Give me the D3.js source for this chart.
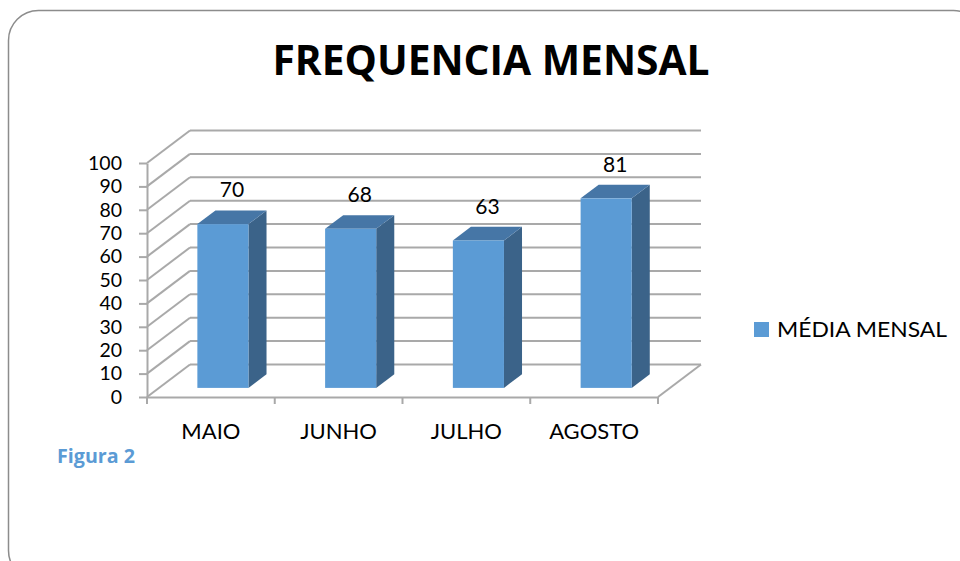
<!DOCTYPE html>
<html>
<head>
    <title>Frequencia Mensal</title>
    <script src="https://d3js.org/d3.v7.min.js"></script>
    <style>
        body { margin: 0; background: #fff; }
        svg { display: block; font-family: Lato, "Open Sans", sans-serif; }
    </style>
</head>
<body>
    <div id="chart"></div>

    <script>
        // chart values
        const categories = ['MAIO', 'JUNHO', 'JULHO', 'AGOSTO'];
        const mediaMensal = [70, 68, 63, 81];
        const yTicks = [0, 10, 20, 30, 40, 50, 60, 70, 80, 90, 100];
        const seriesName = 'MÉDIA MENSAL';

        const width = 960, height = 561;

        // 3D depth offset of the back wall
        const depth = { dx: 43, dy: -32.5 };
        const barFront = 0.28, barBack = 0.7;

        const svg = d3.select('#chart')
            .append('svg')
            .attr('width', width)
            .attr('height', height);

        // rounded frame
        svg.append('rect')
            .attr('x', 8.5).attr('y', 10.5)
            .attr('width', 975).attr('height', 570)
            .attr('rx', 30).attr('ry', 30)
            .attr('fill', 'none')
            .attr('stroke', '#8c8c8c')
            .attr('stroke-width', 1.5);

        svg.append('text')
            .attr('x', 491).attr('y', 75)
            .attr('text-anchor', 'middle')
            .attr('font-size', 41)
            .attr('font-weight', 'bold')
            .attr('textLength', 437)
            .attr('lengthAdjust', 'spacingAndGlyphs')
            .style('font-family', '"Open Sans", sans-serif')
            .text('FREQUENCIA MENSAL');

        const x = d3.scaleBand()
            .domain(categories)
            .range([147, 658])
            .paddingInner(0);

        const y = d3.scaleLinear()
            .domain([0, 100])
            .range([397, 163]);

        // project a point at depth d (0 front .. 1 back)
        const px = (xv, d) => xv + d * depth.dx;
        const py = (v, d) => y(v) + d * depth.dy;

        const grid = svg.append('g')
            .attr('stroke', '#a9a9a9')
            .attr('stroke-width', 2)
            .attr('fill', 'none');

        // back wall lines
        grid.selectAll('line.back')
            .data(yTicks)
            .enter()
            .append('line')
            .attr('class', 'back')
            .attr('x1', px(x.range()[0], 1))
            .attr('x2', px(x.range()[1], 1))
            .attr('y1', d => py(d, 1))
            .attr('y2', d => py(d, 1));

        // side wall diagonals
        grid.selectAll('line.side')
            .data(yTicks)
            .enter()
            .append('line')
            .attr('class', 'side')
            .attr('x1', px(x.range()[0], 0))
            .attr('x2', px(x.range()[0], 1))
            .attr('y1', d => py(d, 0))
            .attr('y2', d => py(d, 1));

        // floor right edge
        grid.append('line')
            .attr('x1', px(x.range()[1], 0))
            .attr('x2', px(x.range()[1], 1))
            .attr('y1', py(0, 0))
            .attr('y2', py(0, 1));

        // left axis
        const yAxis = svg.append('g')
            .attr('transform', `translate(${x.range()[0]},0)`)
            .call(d3.axisLeft(y).tickValues(yTicks).tickSize(8).tickPadding(17).tickSizeOuter(0));
        yAxis.selectAll('text').attr('font-size', 19.5).attr('fill', '#000')
            .style('font-family', 'Lato, sans-serif');
        yAxis.selectAll('line').attr('stroke', '#a9a9a9').attr('stroke-width', 2);
        yAxis.select('.domain').attr('stroke', '#a9a9a9').attr('stroke-width', 2);

        // bottom axis
        const xAxis = svg.append('g')
            .attr('transform', `translate(0,${y(0)})`)
            .call(d3.axisBottom(x).tickSize(0).tickPadding(26).tickSizeOuter(0));
        xAxis.selectAll('text').attr('font-size', 22).attr('fill', '#000')
            .style('font-family', 'Lato, sans-serif');
        xAxis.select('.domain').attr('stroke', '#a9a9a9').attr('stroke-width', 2);

        // category ticks at band edges
        const edges = categories.map(c => x(c)).concat([x.range()[1]]);
        xAxis.selectAll('line.edge')
            .data(edges)
            .enter()
            .append('line')
            .attr('class', 'edge')
            .attr('x1', d => d).attr('x2', d => d)
            .attr('y1', 0).attr('y2', 7)
            .attr('stroke', '#a9a9a9')
            .attr('stroke-width', 2);

        // 3D bars
        const barW = x.bandwidth() * 0.4;
        const bars = svg.selectAll('g.bar')
            .data(categories.map((c, i) => ({ cat: c, value: mediaMensal[i] })))
            .enter()
            .append('g')
            .attr('class', 'bar');

        const x0 = d => x(d.cat) + (x.bandwidth() - barW) / 2;
        const x1 = d => x0(d) + barW;

        // side face
        bars.append('path')
            .attr('fill', '#3b6389')
            .attr('d', d => d3.line()([
                [px(x1(d), barFront), py(0, barFront)],
                [px(x1(d), barBack), py(0, barBack)],
                [px(x1(d), barBack), py(d.value, barBack)],
                [px(x1(d), barFront), py(d.value, barFront)]
            ]) + 'Z');

        // top face
        bars.append('path')
            .attr('fill', '#4676a6')
            .attr('d', d => d3.line()([
                [px(x0(d), barFront), py(d.value, barFront)],
                [px(x1(d), barFront), py(d.value, barFront)],
                [px(x1(d), barBack), py(d.value, barBack)],
                [px(x0(d), barBack), py(d.value, barBack)]
            ]) + 'Z');

        // front face
        bars.append('rect')
            .attr('fill', '#5b9bd5')
            .attr('x', d => px(x0(d), barFront))
            .attr('y', d => py(d.value, barFront))
            .attr('width', barW)
            .attr('height', d => py(0, barFront) - py(d.value, barFront));

        // value labels
        bars.append('text')
            .attr('x', d => px(x0(d) + barW / 2, (barFront + barBack) / 2))
            .attr('y', d => py(d.value, barBack) - 13)
            .attr('text-anchor', 'middle')
            .attr('font-size', 21)
            .text(d => d.value);

        // legend
        const legend = svg.append('g');
        legend.append('rect')
            .attr('x', 754).attr('y', 322)
            .attr('width', 15).attr('height', 15)
            .attr('fill', '#5b9bd5');
        legend.append('text')
            .attr('x', 777).attr('y', 337)
            .attr('font-size', 21)
            .attr('textLength', 170)
            .attr('lengthAdjust', 'spacingAndGlyphs')
            .text(seriesName);

        svg.append('text')
            .attr('x', 57).attr('y', 463)
            .attr('font-size', 19)
            .attr('font-weight', 'bold')
            .attr('fill', '#5b9bd5')
            .attr('textLength', 78)
            .attr('lengthAdjust', 'spacingAndGlyphs')
            .style('font-family', '"Open Sans", sans-serif')
            .text('Figura 2');
    </script>
</body>
</html>
